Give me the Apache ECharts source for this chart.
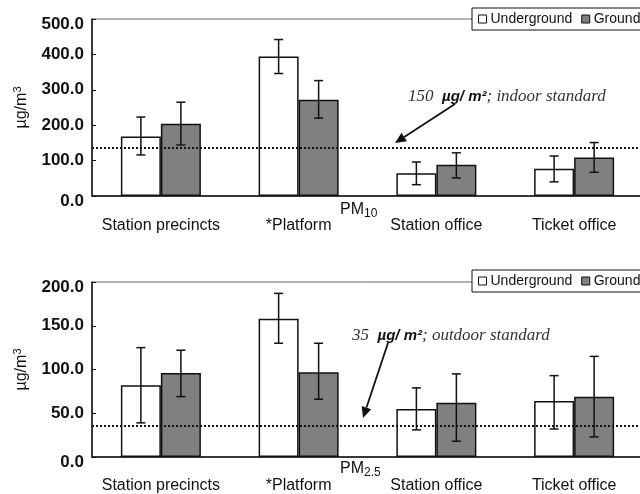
<!DOCTYPE html>
<html><head><meta charset="utf-8">
<script src="https://cdn.jsdelivr.net/npm/echarts@6/dist/echarts.min.js"></script>
<style>html,body{margin:0;padding:0;background:#fff}#c{width:640px;height:494px}</style>
</head><body><div id="c"></div>
<script>
const categories = ['Station precincts', '*Platform', 'Station office', 'Ticket office'];
const seriesNames = ['Underground', 'Ground'];
// PM10
const pm10Under = [168, 394, 64, 77];
const pm10UnderHigh = [223, 442, 96, 113];
const pm10UnderLow = [116, 346, 32, 40];
const pm10Ground = [204, 272, 88, 109];
const pm10GroundHigh = [265, 326, 122, 151];
const pm10GroundLow = [144, 220, 51, 67];
const pm10Standard = 135;
// PM2.5
const pm25Under = [82, 158, 55, 64];
const pm25UnderHigh = [125, 187, 79, 93];
const pm25UnderLow = [39, 130, 31, 32];
const pm25Ground = [96, 97, 62, 69];
const pm25GroundHigh = [122, 130, 95, 115];
const pm25GroundLow = [69, 66, 18, 23];
const pm25Standard = 36;
// axis ticks
const pm10Ticks = {min: 0, max: 500, interval: 100};
const pm25Ticks = {min: 0, max: 200, interval: 50};

const FONT = '"Liberation Sans", Arial, sans-serif';
const SERIF = '"Liberation Serif", "Times New Roman", serif';
const BAR_W = 40;

function errSeries(name, xi, yi, hi, lo, sign) {
  return {
    type: 'custom', name: name + ' err', xAxisIndex: xi, yAxisIndex: yi, z: 5,
    silent: true,
    data: categories.map((c, i) => [i, hi[i], lo[i]]),
    renderItem: function (params, api) {
      const pH = api.coord([api.value(0), api.value(1)]);
      const pL = api.coord([api.value(0), api.value(2)]);
      const cx = pH[0] + sign * BAR_W / 2;
      const w = 4.5;
      const st = {stroke: '#111', lineWidth: 1.5};
      return {type: 'group', children: [
        {type: 'line', shape: {x1: cx, y1: pH[1], x2: cx, y2: pL[1]}, style: st},
        {type: 'line', shape: {x1: cx - w, y1: pH[1], x2: cx + w, y2: pH[1]}, style: st},
        {type: 'line', shape: {x1: cx - w, y1: pL[1], x2: cx + w, y2: pL[1]}, style: st}
      ]};
    }
  };
}

function barSeries(name, xi, yi, data, color, std) {
  const s = {
    type: 'bar', name: name, xAxisIndex: xi, yAxisIndex: yi, data: data,
    barWidth: BAR_W, barGap: '0%',
    itemStyle: {color: color, borderColor: '#111', borderWidth: 1.5},
    emphasis: {disabled: true}
  };
  if (std !== undefined) {
    s.markLine = {
      silent: true, symbol: 'none', label: {show: false},
      lineStyle: {color: '#111', type: [2, 2], width: 2.2},
      data: [{yAxis: std}]
    };
  }
  return s;
}

function arrow(x1, y1, x2, y2) {
  const ang = Math.atan2(y2 - y1, x2 - x1);
  const L = 11, W = 5;
  const bx = x2 - L * Math.cos(ang), by = y2 - L * Math.sin(ang);
  const px = -Math.sin(ang) * W, py = Math.cos(ang) * W;
  return {type: 'group', children: [
    {type: 'line', shape: {x1: x1, y1: y1, x2: bx, y2: by}, style: {stroke: '#111', lineWidth: 1.8}},
    {type: 'polygon', shape: {points: [[x2, y2], [bx + px, by + py], [bx - px, by - py]]}, style: {fill: '#111'}}
  ]};
}

function xAxisCfg(gi, margin) {
  return {
    type: 'category', gridIndex: gi, data: categories,
    axisLine: {lineStyle: {color: '#111', width: 1.5}},
    axisTick: {inside: true, length: 4, lineStyle: {color: '#111'}},
    axisLabel: {color: '#111', fontSize: 16, fontFamily: FONT, margin: margin, interval: 0}
  };
}
function yAxisCfg(gi, t) {
  return {
    type: 'value', gridIndex: gi, min: t.min, max: t.max, interval: t.interval,
    name: 'µg/m{sup|3}', nameLocation: 'middle', nameRotate: 90, nameGap: 61,
    nameTextStyle: {color: '#111', fontSize: 16, fontFamily: FONT,
      rich: {sup: {fontSize: 11, verticalAlign: 'top', padding: [0, 0, 8, 0], fontFamily: FONT, color: '#111'}}},
    axisLine: {show: true, lineStyle: {color: '#111', width: 1.5}},
    axisTick: {show: true, inside: true, length: 4, lineStyle: {color: '#111'}},
    splitLine: {show: false},
    axisLabel: {color: '#111', fontSize: 17, fontWeight: 'bold', fontFamily: FONT, margin: 8,
      formatter: v => (v === t.min || v === t.max) ? '{e|' + v.toFixed(1) + '}' : v.toFixed(1),
      rich: {e: {fontSize: 17, fontWeight: 'bold', fontFamily: FONT, color: '#111', padding: [11, 0, 0, 0]}}}
  };
}
function legendCfg(top) {
  return {
    data: seriesNames, left: 472, top: top, width: 200, orient: 'horizontal',
    icon: 'rect', itemWidth: 8, itemHeight: 8, itemGap: 9,
    padding: [4, 6, 4, 6], backgroundColor: '#fff', borderColor: '#111', borderWidth: 1,
    borderRadius: 0, selectedMode: false,
    textStyle: {color: '#111', fontSize: 14, fontFamily: FONT, padding: [0, 0, 0, -1]},
    itemStyle: {borderColor: '#111', borderWidth: 1}
  };
}

const chart = echarts.init(document.getElementById('c'), null, {renderer: 'canvas'});
chart.setOption({
  animation: false,
  backgroundColor: '#fff',
  grid: [
    {left: 92, right: -3, top: 19, height: 177, show: true, borderColor: '#666', borderWidth: 1,
     backgroundColor: 'transparent', outerBoundsMode: 'none', containLabel: false},
    {left: 92, right: -3, top: 282, height: 175, show: true, borderColor: '#666', borderWidth: 1,
     backgroundColor: 'transparent', outerBoundsMode: 'none', containLabel: false}
  ],
  legend: [legendCfg(8), legendCfg(270)],
  xAxis: [xAxisCfg(0, 22), xAxisCfg(1, 21)],
  yAxis: [yAxisCfg(0, pm10Ticks), yAxisCfg(1, pm25Ticks)],
  series: [
    barSeries(seriesNames[0], 0, 0, pm10Under, '#fff', pm10Standard),
    barSeries(seriesNames[1], 0, 0, pm10Ground, '#808080'),
    errSeries(seriesNames[0], 0, 0, pm10UnderHigh, pm10UnderLow, -1),
    errSeries(seriesNames[1], 0, 0, pm10GroundHigh, pm10GroundLow, 1),
    barSeries(seriesNames[0], 1, 1, pm25Under, '#fff', pm25Standard),
    barSeries(seriesNames[1], 1, 1, pm25Ground, '#808080'),
    errSeries(seriesNames[0], 1, 1, pm25UnderHigh, pm25UnderLow, -1),
    errSeries(seriesNames[1], 1, 1, pm25GroundHigh, pm25GroundLow, 1)
  ],
  graphic: [
    {type: 'text', left: 340, top: 202, z: 10, style: {
      text: 'PM{sub|10}', fill: '#111', font: '16px ' + FONT,
      rich: {sub: {fontSize: 12, fontFamily: FONT, fill: '#111', padding: [8, 0, 0, 0]}}}},
    {type: 'text', left: 340, top: 461, z: 10, style: {
      text: 'PM{sub|2.5}', fill: '#111', font: '16px ' + FONT,
      rich: {sub: {fontSize: 12, fontFamily: FONT, fill: '#111', padding: [8, 0, 0, 0]}}}},
    {type: 'text', left: 408, top: 88, z: 10, style: {
      text: '{a|150  }{b|µg/ m²}{a|; indoor standard}',
      rich: {a: {fontFamily: SERIF, fontStyle: 'italic', fontSize: 17, fill: '#333'},
             b: {fontFamily: FONT, fontStyle: 'italic', fontWeight: 'bold', fontSize: 15, fill: '#111'}}}},
    {type: 'text', left: 352, top: 327, z: 10, style: {
      text: '{a|35  }{b|µg/ m²}{a|; outdoor standard}',
      rich: {a: {fontFamily: SERIF, fontStyle: 'italic', fontSize: 17, fill: '#333'},
             b: {fontFamily: FONT, fontStyle: 'italic', fontWeight: 'bold', fontSize: 15, fill: '#111'}}}},
    Object.assign(arrow(455, 104, 395, 143), {z: 10}),
    Object.assign(arrow(388, 343, 363, 418), {z: 10})
  ]
});
</script></body></html>
